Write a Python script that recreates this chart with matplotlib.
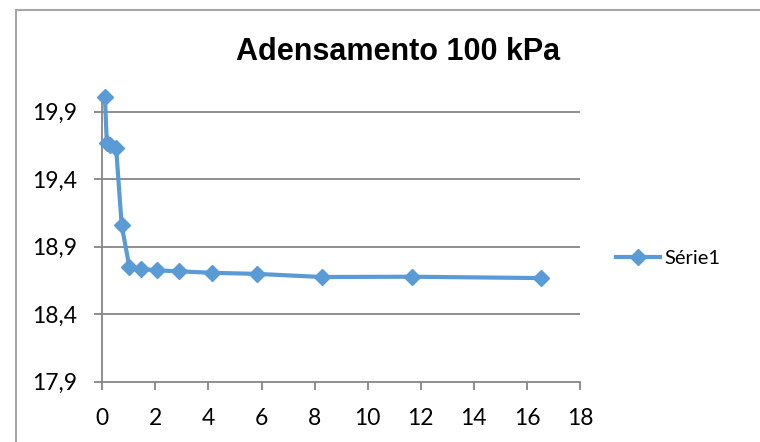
import matplotlib.pyplot as plt
from matplotlib.patches import Rectangle
from matplotlib.ticker import FuncFormatter

# raiz do tempo x altura do corpo de prova
x_vals = [0.10, 0.17, 0.29, 0.52, 0.73, 1.02, 1.45, 2.05, 2.90, 4.12, 5.84, 8.27, 11.68, 16.52]
y_vals = [20.01, 19.665, 19.653, 19.633, 19.058, 18.748, 18.736, 18.724, 18.717, 18.706,
          18.698, 18.675, 18.677, 18.667]
x_ticks = [0, 2, 4, 6, 8, 10, 12, 14, 16, 18]
y_ticks = [17.9, 18.4, 18.9, 19.4, 19.9]
serie_name = "Série1"

blue = "#5B9BD5"
gray = "#868686"

fig = plt.figure(figsize=(7.6, 4.42), dpi=100)
ax = fig.add_axes([102.3 / 760, 1 - 381.7 / 442, (580 - 102.3) / 760, (381.7 - 98) / 442])

# moldura do grafico (Excel)
fig.patches.append(Rectangle((16 / 760, -0.2), 1.2, 1.2 - 10 / 442,
                             transform=fig.transFigure, fill=False,
                             edgecolor="#A6A6A6", linewidth=1.5))

ax.plot(x_vals, y_vals, color=blue, linewidth=3, marker="D", markersize=8,
        markerfacecolor=blue, markeredgecolor=blue, clip_on=False, label=serie_name, zorder=5)

ax.set_xlim(0, 18)
ax.set_ylim(17.9, 20.0)
ax.set_xticks(x_ticks)
ax.set_yticks(y_ticks)
ax.yaxis.set_major_formatter(FuncFormatter(lambda v, p: f"{v:.1f}".replace(".", ",")))

for v in y_ticks[1:]:
    ax.axhline(v, color=gray, linewidth=1.3, zorder=1)

for side in ["top", "right"]:
    ax.spines[side].set_visible(False)
for side in ["left", "bottom"]:
    ax.spines[side].set_color(gray)
    ax.spines[side].set_linewidth(1.3)

ax.tick_params(axis="both", direction="out", length=6, width=1.3, color=gray,
               labelsize=16.5, labelcolor="black")
ax.tick_params(axis="y", pad=12)
ax.tick_params(axis="x", pad=13)
for lab in ax.get_xticklabels() + ax.get_yticklabels():
    lab.set_fontfamily("Lato")

fig.text(398 / 760, 1 - 52 / 442, "Adensamento 100 kPa", ha="center", va="center",
         fontsize=22, fontweight="bold", fontfamily="Liberation Sans")

leg = ax.legend(loc="center left", bbox_to_anchor=(606 / 760, 1 - 258 / 442),
                bbox_transform=fig.transFigure, frameon=False, borderpad=0,
                handlelength=2.2, handletextpad=0.2, prop={"family": "Lato", "size": 14.5})

fig.savefig("out.png", dpi=100)
